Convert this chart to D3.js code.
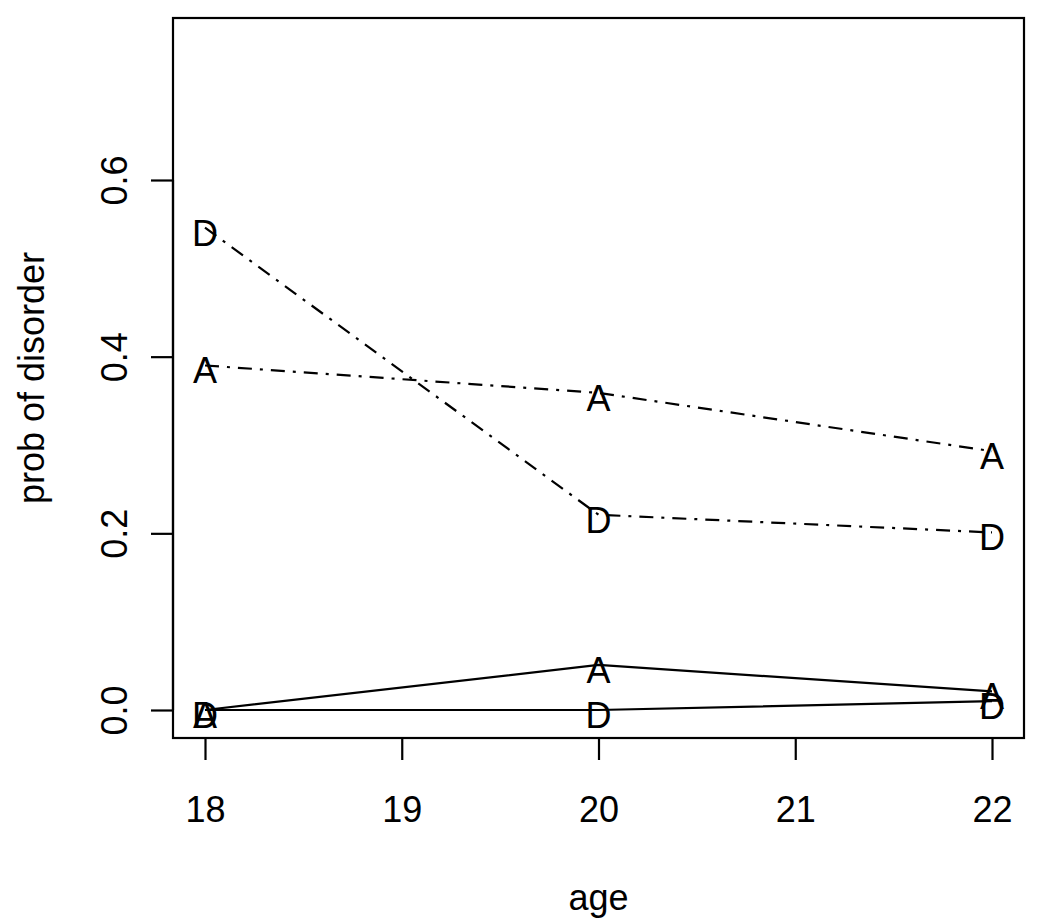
<!DOCTYPE html>
<html>
<head>
<meta charset="utf-8">
<script src="https://cdn.jsdelivr.net/npm/d3@7/dist/d3.min.js"></script>
<style>
  body { margin: 0; background: #fff; }
  svg text { font-family: "Liberation Sans", Arial, sans-serif; fill: #000; }
</style>
</head>
<body>
<svg width="1050" height="922"></svg>
<script>
const svg = d3.select("svg");

// ages on the x axis
const ages = [18, 20, 22];
const xTicks = [18, 19, 20, 21, 22];
const yTicks = [0.0, 0.2, 0.4, 0.6];

// four series, each labelled by a letter at every point
const dashA = [0.39, 0.359, 0.293];
const dashD = [0.546, 0.221, 0.201];
const solidA = [0.0, 0.051, 0.021];
const solidD = [0.0, 0.0, 0.01];

const series = [
  { label: "D", values: dashD, dashed: true },
  { label: "A", values: dashA, dashed: true },
  { label: "A", values: solidA, dashed: false },
  { label: "D", values: solidD, dashed: false }
];

// plot box (R style base graphics)
const box = { left: 173, right: 1024, top: 18, bottom: 738 };

const x = d3.scaleLinear().domain([18, 22]).range([205, 992]);
const y = d3.scaleLinear().domain([0, 0.6]).range([710, 180]);

const fontSize = 36;
const tickLen = 22;

// box
svg.append("rect")
  .attr("x", box.left)
  .attr("y", box.top)
  .attr("width", box.right - box.left)
  .attr("height", box.bottom - box.top)
  .attr("fill", "none")
  .attr("stroke", "#000")
  .attr("stroke-width", 2.2);

// x axis
const xAxis = d3.axisBottom(x)
  .tickValues(xTicks)
  .tickSize(tickLen)
  .tickFormat(d3.format("d"));

const xAxisG = svg.append("g")
  .attr("transform", `translate(0,${box.bottom})`)
  .call(xAxis);
xAxisG.select(".domain")
  .attr("d", `M${x(18)},0H${x(22)}`)
  .attr("stroke-width", 2.2);
xAxisG.selectAll(".tick line").attr("stroke-width", 2.2);
xAxisG.selectAll(".tick text")
  .attr("font-size", fontSize)
  .attr("font-family", "Liberation Sans, Arial, sans-serif")
  .attr("dy", null)
  .attr("y", 822 - box.bottom);

// y axis
const yAxis = d3.axisLeft(y)
  .tickValues(yTicks)
  .tickSize(tickLen)
  .tickFormat(d3.format(".1f"));

const yAxisG = svg.append("g")
  .attr("transform", `translate(${box.left},0)`)
  .call(yAxis);
yAxisG.select(".domain")
  .attr("d", `M0,${y(0)}V${y(0.6)}`)
  .attr("stroke-width", 2.2);
yAxisG.selectAll(".tick line").attr("stroke-width", 2.2);
yAxisG.selectAll(".tick text")
  .attr("font-size", fontSize)
  .attr("font-family", "Liberation Sans, Arial, sans-serif")
  .attr("x", null)
  .attr("dy", null)
  .attr("text-anchor", "middle")
  .attr("transform", `translate(${127 - box.left},0) rotate(-90)`);

// axis titles
svg.append("text")
  .attr("x", (box.left + box.right) / 2)
  .attr("y", 910)
  .attr("text-anchor", "middle")
  .attr("font-size", fontSize)
  .text("age");

svg.append("text")
  .attr("transform", `translate(44,${(box.top + box.bottom) / 2}) rotate(-90)`)
  .attr("text-anchor", "middle")
  .attr("font-size", fontSize)
  .text("prob of disorder");

// lines
const line = d3.line()
  .x((d, i) => x(ages[i]))
  .y(d => y(d));

svg.selectAll("path.series")
  .data(series)
  .enter()
  .append("path")
  .attr("class", "series")
  .attr("d", d => line(d.values))
  .attr("fill", "none")
  .attr("stroke", "#000")
  .attr("stroke-width", 2.2)
  .attr("stroke-dasharray", d => d.dashed ? "14,8,3,8" : null);

// letters at points (R centres them a little below the point)
series.forEach(s => {
  svg.selectAll(null)
    .data(s.values)
    .enter()
    .append("text")
    .attr("x", (d, i) => x(ages[i]))
    .attr("y", d => y(d) + fontSize * 0.358 + 5)
    .attr("text-anchor", "middle")
    .attr("font-size", fontSize)
    .text(s.label);
});
</script>
</body>
</html>
